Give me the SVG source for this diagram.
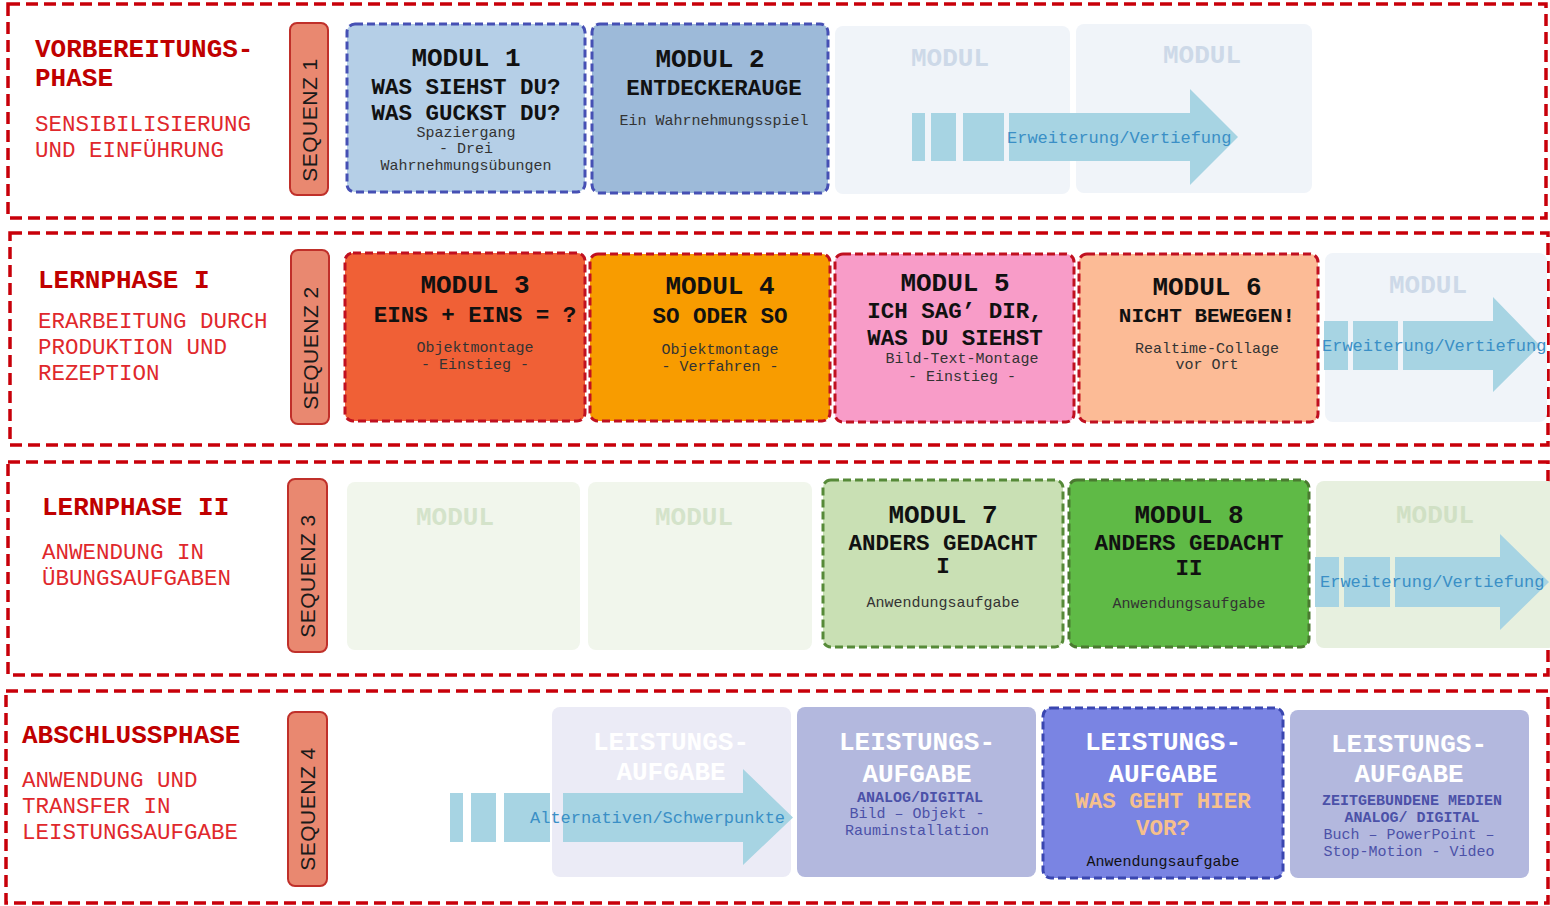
<svg xmlns="http://www.w3.org/2000/svg" width="1550" height="906" viewBox="0 0 1550 906">
<style>
.phase{fill:none;stroke:#c8000a;stroke-width:3.5;stroke-dasharray:12 6}
.tab{fill:#e98870;stroke:#c0302a;stroke-width:2}
.seq{font-family:"Liberation Sans",Arial,sans-serif;font-size:21px;fill:#1a1a1a;text-anchor:middle;dominant-baseline:central;letter-spacing:0.5px}
.pt{font-family:"Liberation Mono",monospace;font-weight:bold;font-size:26px;fill:#c00000}
.ps{font-family:"Liberation Mono",monospace;font-size:22.5px;fill:#e0282c}
.mb{stroke-width:3;stroke-dasharray:8 4}
.blue{stroke:#4650b4}
.red{stroke:#c01020}
.green{stroke:#568a38}
.green2{stroke:#4a7a30}
.fade{stroke:none}
.h{font-family:"Liberation Mono",monospace;font-weight:bold;font-size:26px;fill:#111;text-anchor:middle}
.t{font-family:"Liberation Mono",monospace;font-weight:bold;font-size:22.5px;fill:#111;text-anchor:middle}
.s{font-family:"Liberation Mono",monospace;font-size:15px;fill:#333;text-anchor:middle}
.fm{font-family:"Liberation Mono",monospace;font-weight:bold;font-size:26px;text-anchor:middle}
.la{font-family:"Liberation Mono",monospace;font-weight:bold;font-size:26px;fill:#fff;text-anchor:middle}
.las{font-family:"Liberation Mono",monospace;font-size:15px;fill:#4b51a8;text-anchor:middle}
.arr{fill:#a7d4e3}
.at{font-family:"Liberation Mono",monospace;font-size:17px;fill:#3a8fc6}
</style>

<g id="phase1">
<rect class="phase" x="8" y="4" width="1538" height="214"/>
<text class="pt" x="35" y="57">VORBEREITUNGS-</text>
<text class="pt" x="35" y="86">PHASE</text>
<text class="ps" x="35" y="131">SENSIBILISIERUNG</text>
<text class="ps" x="35" y="157">UND EINFÜHRUNG</text>
</g>
<g id="phase2">
<rect class="phase" x="10" y="233" width="1538" height="212"/>
<text class="pt" x="38" y="288">LERNPHASE I</text>
<text class="ps" x="38" y="328">ERARBEITUNG DURCH</text>
<text class="ps" x="38" y="354">PRODUKTION UND</text>
<text class="ps" x="38" y="380">REZEPTION</text>
</g>
<g id="phase3">
<rect class="phase" x="8" y="462" width="1540" height="213"/>
<text class="pt" x="42" y="515">LERNPHASE II</text>
<text class="ps" x="42" y="559">ANWENDUNG IN</text>
<text class="ps" x="42" y="585">ÜBUNGSAUFGABEN</text>
</g>
<g id="phase4">
<rect class="phase" x="6" y="691" width="1542" height="212"/>
<text class="pt" x="22" y="743">ABSCHLUSSPHASE</text>
<text class="ps" x="22" y="787">ANWENDUNG UND</text>
<text class="ps" x="22" y="813">TRANSFER IN</text>
<text class="ps" x="22" y="839">LEISTUNGSAUFGABE</text>
</g>

<g id="seq1"><rect class="tab" x="290" y="23" width="38" height="172" rx="7"/><text class="seq" transform="rotate(-90 309 120)" x="309" y="120">SEQUENZ 1</text></g>
<g id="seq2"><rect class="tab" x="291" y="250" width="38" height="174" rx="7"/><text class="seq" transform="rotate(-90 310 348)" x="310" y="348">SEQUENZ 2</text></g>
<g id="seq3"><rect class="tab" x="288" y="479" width="39" height="173" rx="7"/><text class="seq" transform="rotate(-90 307.5 576)" x="307.5" y="576">SEQUENZ 3</text></g>
<g id="seq4"><rect class="tab" x="288" y="712" width="39" height="174" rx="7"/><text class="seq" transform="rotate(-90 307.5 809)" x="307.5" y="809">SEQUENZ 4</text></g>

<!-- row 1 -->
<g id="modul1">
<rect class="mb blue" x="347" y="24" width="238" height="168" rx="8" fill="#b5cfe7"/>
<text class="h" x="466" y="66">MODUL 1</text>
<text class="t" x="466" y="94">WAS SIEHST DU?</text>
<text class="t" x="466" y="120">WAS GUCKST DU?</text>
<text class="s" x="466" y="137">Spaziergang</text>
<text class="s" x="466" y="153">- Drei</text>
<text class="s" x="466" y="170">Wahrnehmungsübungen</text>
</g>
<g id="modul2">
<rect class="mb blue" x="592" y="24" width="236" height="169" rx="8" fill="#9dbad9"/>
<text class="h" x="710" y="67">MODUL 2</text>
<text class="t" x="714" y="95">ENTDECKERAUGE</text>
<text class="s" x="714" y="125">Ein Wahrnehmungsspiel</text>
</g>
<g id="fade1a"><rect class="fade" x="835" y="26" width="235" height="168" rx="8" fill="#f0f4f9"/><text class="fm" x="950" y="66" fill="#cdd9e8">MODUL</text></g>
<g id="fade1b"><rect class="fade" x="1076" y="24" width="236" height="169" rx="8" fill="#f0f4f9"/><text class="fm" x="1202" y="63" fill="#cdd9e8">MODUL</text></g>

<!-- row 2 -->
<g id="modul3">
<rect class="mb red" x="345" y="253" width="240" height="168" rx="8" fill="#f06036"/>
<text class="h" x="475" y="293">MODUL 3</text>
<text class="t" x="475" y="322">EINS + EINS = ?</text>
<text class="s" x="475" y="352">Objektmontage</text>
<text class="s" x="475" y="369">- Einstieg -</text>
</g>
<g id="modul4">
<rect class="mb red" x="590" y="254" width="240" height="167" rx="8" fill="#f89c00"/>
<text class="h" x="720" y="294">MODUL 4</text>
<text class="t" x="720" y="323">SO ODER SO</text>
<text class="s" x="720" y="354" fill="#3a2a00">Objektmontage</text>
<text class="s" x="720" y="371" fill="#3a2a00">- Verfahren -</text>
</g>
<g id="modul5">
<rect class="mb red" x="835" y="254" width="239" height="168" rx="8" fill="#f89cc8"/>
<text class="h" x="955" y="291">MODUL 5</text>
<text class="t" x="955" y="318">ICH SAG’ DIR,</text>
<text class="t" x="955" y="345">WAS DU SIEHST</text>
<text class="s" x="962" y="363" fill="#3a2a4a">Bild-Text-Montage</text>
<text class="s" x="962" y="381" fill="#3a2a4a">- Einstieg -</text>
</g>
<g id="modul6">
<rect class="mb red" x="1079" y="254" width="239" height="168" rx="8" fill="#fcbb96"/>
<text class="h" x="1207" y="295">MODUL 6</text>
<text class="t" x="1207" y="322" style="font-size:21px">NICHT BEWEGEN!</text>
<text class="s" x="1207" y="353">Realtime-Collage</text>
<text class="s" x="1207" y="369">vor Ort</text>
</g>
<g id="fade2"><rect class="fade" x="1325" y="253" width="222" height="169" rx="8" fill="#f0f4f9"/><text class="fm" x="1428" y="293" fill="#cdd9e8">MODUL</text></g>

<!-- row 3 -->
<g id="fade3a"><rect class="fade" x="347" y="482" width="233" height="168" rx="8" fill="#f1f6ec"/><text class="fm" x="455" y="525" fill="#d4e3ca">MODUL</text></g>
<g id="fade3b"><rect class="fade" x="588" y="482" width="224" height="168" rx="8" fill="#f1f6ec"/><text class="fm" x="694" y="525" fill="#d4e3ca">MODUL</text></g>
<g id="modul7">
<rect class="mb green" x="823" y="480" width="240" height="167" rx="8" fill="#c9e0b4"/>
<text class="h" x="943" y="523">MODUL 7</text>
<text class="t" x="943" y="550">ANDERS GEDACHT</text>
<text class="t" x="943" y="573">I</text>
<text class="s" x="943" y="607">Anwendungsaufgabe</text>
</g>
<g id="modul8">
<rect class="mb green2" x="1069" y="480" width="240" height="167" rx="8" fill="#5fba46"/>
<text class="h" x="1189" y="523">MODUL 8</text>
<text class="t" x="1189" y="550">ANDERS GEDACHT</text>
<text class="t" x="1189" y="575">II</text>
<text class="s" x="1189" y="608" fill="#1a2a10">Anwendungsaufgabe</text>
</g>
<g id="fade3c"><rect class="fade" x="1316" y="481" width="240" height="167" rx="8" fill="#e7f0df"/><text class="fm" x="1435" y="523" fill="#d0e0c4">MODUL</text></g>

<!-- row 4 -->
<g id="la1"><rect class="fade" x="552" y="707" width="239" height="170" rx="8" fill="#ebebf6"/><text class="la" x="671" y="750">LEISTUNGS-</text><text class="la" x="671" y="780">AUFGABE</text></g>
<g id="la2">
<rect class="fade" x="797" y="707" width="239" height="170" rx="8" fill="#b3b8de"/>
<text class="la" x="917" y="750">LEISTUNGS-</text>
<text class="la" x="917" y="782">AUFGABE</text>
<text class="las" x="920" y="802" style="font-weight:bold">ANALOG/DIGITAL</text>
<text class="las" x="917" y="818">Bild – Objekt -</text>
<text class="las" x="917" y="835">Rauminstallation</text>
</g>
<g id="la3">
<rect class="mb blue" x="1043" y="708" width="240" height="170" rx="8" fill="#7a84e3" style="stroke:#3a46b0"/>
<text class="la" x="1163" y="750">LEISTUNGS-</text>
<text class="la" x="1163" y="782">AUFGABE</text>
<text class="t" x="1163" y="808" style="fill:#f6c08c">WAS GEHT HIER</text>
<text class="t" x="1163" y="835" style="fill:#f6c08c">VOR?</text>
<text class="s" x="1163" y="866" style="fill:#111">Anwendungsaufgabe</text>
</g>
<g id="la4">
<rect class="fade" x="1290" y="710" width="239" height="168" rx="8" fill="#b3b8de"/>
<text class="la" x="1409" y="752">LEISTUNGS-</text>
<text class="la" x="1409" y="782">AUFGABE</text>
<text class="las" x="1412" y="805" style="font-weight:bold">ZEITGEBUNDENE MEDIEN</text>
<text class="las" x="1412" y="822" style="font-weight:bold">ANALOG/ DIGITAL</text>
<text class="las" x="1409" y="839">Buch – PowerPoint –</text>
<text class="las" x="1409" y="856">Stop-Motion - Video</text>
</g>

<g id="connectors">
<g id="arrow1">
<rect class="arr" x="912" y="113" width="13" height="48"/>
<rect class="arr" x="931" y="113" width="25" height="48"/>
<rect class="arr" x="963" y="113" width="41" height="48"/>
<path class="arr" d="M1009,113 H1190 V89 L1238,137 L1190,185 V161 H1009 Z"/>
<text class="at" x="1007" y="143">Erweiterung/Vertiefung</text>
</g>
<g id="arrow2">
<rect class="arr" x="1324" y="321" width="24" height="49"/>
<rect class="arr" x="1353" y="321" width="45" height="49"/>
<path class="arr" d="M1403,321 H1493 V297 L1540,345.5 L1493,392 V370 H1403 Z"/>
<text class="at" x="1322" y="351">Erweiterung/Vertiefung</text>
</g>
<g id="arrow3">
<rect class="arr" x="1315" y="557" width="24" height="50"/>
<rect class="arr" x="1344" y="557" width="46" height="50"/>
<path class="arr" d="M1395,557 H1500 V534 L1549,582 L1500,630 V607 H1395 Z"/>
<text class="at" x="1320" y="587">Erweiterung/Vertiefung</text>
</g>
<g id="arrow4">
<rect class="arr" x="450" y="793" width="13" height="49"/>
<rect class="arr" x="471" y="793" width="25" height="49"/>
<rect class="arr" x="504" y="793" width="46" height="49"/>
<path class="arr" d="M563,793 H743 V769 L793,817.5 L743,865 V842 H563 Z"/>
<text class="at" x="530" y="823">Alternativen/Schwerpunkte</text>
</g>
</g>
</svg>
